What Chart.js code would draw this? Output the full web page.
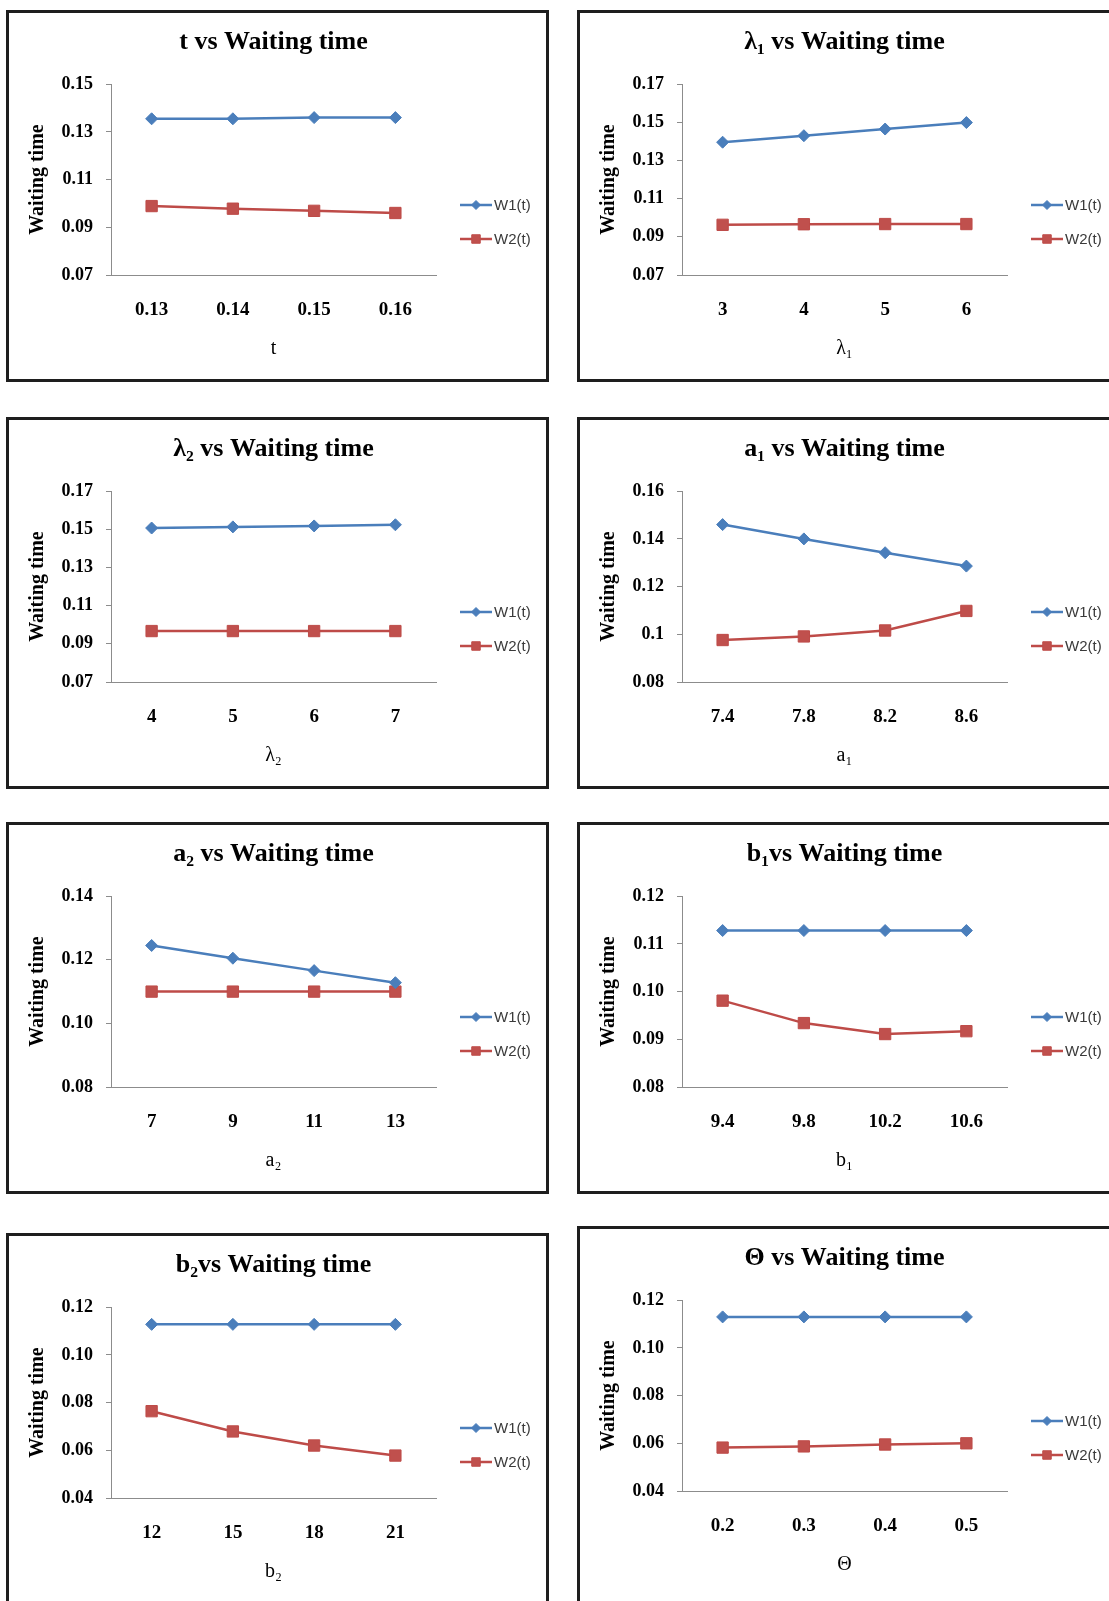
<!DOCTYPE html>
<html>
<head>
<meta charset="utf-8">
<script src="https://cdn.jsdelivr.net/npm/chart.js@4.4.0/dist/chart.umd.min.js"></script>
<style>
  html, body { margin: 0; padding: 0; background: #fff; width: 1109px; height: 1601px; overflow: hidden; }
  .panel { position: absolute; border: 3px solid #1e1e1e; width: 537px; height: 366px; background: #fff; }
  .panel canvas { display: block; }
</style>
</head>
<body>
<div class="panel" style="left:6px;top:10px"><canvas id="c0" width="537" height="366"></canvas></div>
<div class="panel" style="left:577px;top:10px"><canvas id="c1" width="537" height="366"></canvas></div>
<div class="panel" style="left:6px;top:417px"><canvas id="c2" width="537" height="366"></canvas></div>
<div class="panel" style="left:577px;top:417px"><canvas id="c3" width="537" height="366"></canvas></div>
<div class="panel" style="left:6px;top:822px"><canvas id="c4" width="537" height="366"></canvas></div>
<div class="panel" style="left:577px;top:822px"><canvas id="c5" width="537" height="366"></canvas></div>
<div class="panel" style="left:6px;top:1233px;height:390px"><canvas id="c6" width="537" height="366"></canvas></div>
<div class="panel" style="left:577px;top:1226px;height:390px"><canvas id="c7" width="537" height="366"></canvas></div>
<script>
// t vs waiting time
const tCats = ["0.13", "0.14", "0.15", "0.16"];
const tW1 = [0.1355, 0.1355, 0.1360, 0.1360];
const tW2 = [0.0989, 0.0978, 0.0969, 0.0960];
const tTicks = [0.07, 0.09, 0.11, 0.13, 0.15];
const tTickLabels = ["0.07", "0.09", "0.11", "0.13", "0.15"];

// lambda1
const l1Cats = ["3", "4", "5", "6"];
const l1W1 = [0.1396, 0.1430, 0.1465, 0.1499];
const l1W2 = [0.0963, 0.0966, 0.0967, 0.0967];
const l1Ticks = [0.07, 0.09, 0.11, 0.13, 0.15, 0.17];
const l1TickLabels = ["0.07", "0.09", "0.11", "0.13", "0.15", "0.17"];

// lambda2
const l2Cats = ["4", "5", "6", "7"];
const l2W1 = [0.1507, 0.1513, 0.1518, 0.1524];
const l2W2 = [0.0967, 0.0967, 0.0967, 0.0967];
const l2Ticks = [0.07, 0.09, 0.11, 0.13, 0.15, 0.17];
const l2TickLabels = ["0.07", "0.09", "0.11", "0.13", "0.15", "0.17"];

// a1
const a1Cats = ["7.4", "7.8", "8.2", "8.6"];
const a1W1 = [0.1460, 0.1400, 0.1342, 0.1286];
const a1W2 = [0.0976, 0.0991, 0.1016, 0.1098];
const a1Ticks = [0.08, 0.10, 0.12, 0.14, 0.16];
const a1TickLabels = ["0.08", "0.1", "0.12", "0.14", "0.16"];

// a2
const a2Cats = ["7", "9", "11", "13"];
const a2W1 = [0.1245, 0.1205, 0.1166, 0.1128];
const a2W2 = [0.1100, 0.1100, 0.1100, 0.1100];
const a2Ticks = [0.08, 0.10, 0.12, 0.14];
const a2TickLabels = ["0.08", "0.10", "0.12", "0.14"];

// b1
const b1Cats = ["9.4", "9.8", "10.2", "10.6"];
const b1W1 = [0.1128, 0.1128, 0.1128, 0.1128];
const b1W2 = [0.0981, 0.0934, 0.0911, 0.0917];
const b1Ticks = [0.08, 0.09, 0.10, 0.11, 0.12];
const b1TickLabels = ["0.08", "0.09", "0.10", "0.11", "0.12"];

// b2
const b2Cats = ["12", "15", "18", "21"];
const b2W1 = [0.1128, 0.1128, 0.1128, 0.1128];
const b2W2 = [0.0764, 0.0679, 0.0620, 0.0578];
const b2Ticks = [0.04, 0.06, 0.08, 0.10, 0.12];
const b2TickLabels = ["0.04", "0.06", "0.08", "0.10", "0.12"];

// theta
const thCats = ["0.2", "0.3", "0.4", "0.5"];
const thW1 = [0.1130, 0.1130, 0.1130, 0.1130];
const thW2 = [0.0582, 0.0587, 0.0595, 0.0600];
const thTicks = [0.04, 0.06, 0.08, 0.10, 0.12];
const thTickLabels = ["0.04", "0.06", "0.08", "0.10", "0.12"];

const seriesNames = ["W1(t)", "W2(t)"];

const panels = [
  { id: "c0", title: "t vs Waiting time", xTitle: "t", cats: tCats, w1: tW1, w2: tW2, ticks: tTicks, tickLabels: tTickLabels },
  { id: "c1", title: "λ₁ vs Waiting time", xTitle: "λ₁", cats: l1Cats, w1: l1W1, w2: l1W2, ticks: l1Ticks, tickLabels: l1TickLabels },
  { id: "c2", title: "λ₂ vs Waiting time", xTitle: "λ₂", cats: l2Cats, w1: l2W1, w2: l2W2, ticks: l2Ticks, tickLabels: l2TickLabels },
  { id: "c3", title: "a₁ vs Waiting time", xTitle: "a₁", cats: a1Cats, w1: a1W1, w2: a1W2, ticks: a1Ticks, tickLabels: a1TickLabels },
  { id: "c4", title: "a₂ vs Waiting time", xTitle: "a₂", cats: a2Cats, w1: a2W1, w2: a2W2, ticks: a2Ticks, tickLabels: a2TickLabels },
  { id: "c5", title: "b₁vs Waiting time", xTitle: "b₁", cats: b1Cats, w1: b1W1, w2: b1W2, ticks: b1Ticks, tickLabels: b1TickLabels },
  { id: "c6", title: "b₂vs Waiting time", xTitle: "b₂", cats: b2Cats, w1: b2W1, w2: b2W2, ticks: b2Ticks, tickLabels: b2TickLabels },
  { id: "c7", title: "Θ vs Waiting time", xTitle: "Θ", cats: thCats, w1: thW1, w2: thW2, ticks: thTicks, tickLabels: thTickLabels },
];

const SERIF = "'Liberation Serif', 'Times New Roman', serif";
const BLUE = "#4A7EBB";
const RED = "#BE4B48";
const AXIS = "#8c8c8c";

// excel style legend: short line with the marker in the middle
const sideLegend = {
  id: "sideLegend",
  afterDraw(chart) {
    const ctx = chart.ctx;
    const x0 = 451, x1 = 483;
    chart.data.datasets.forEach((ds, i) => {
      const y = 192 + i * 34;
      ctx.save();
      ctx.strokeStyle = ds.borderColor;
      ctx.lineWidth = 2.5;
      ctx.beginPath();
      ctx.moveTo(x0, y);
      ctx.lineTo(x1, y);
      ctx.stroke();
      ctx.fillStyle = ds.backgroundColor;
      ctx.lineWidth = 1;
      Chart.helpers.drawPoint(ctx, { pointStyle: ds.pointStyle, radius: i === 0 ? 4.5 : 6, borderWidth: 1 }, (x0 + x1) / 2, y);
      ctx.fillStyle = "#3a3a3a";
      ctx.font = "15px 'Liberation Sans', Arial, sans-serif";
      ctx.textBaseline = "middle";
      ctx.textAlign = "left";
      ctx.fillText(ds.label, x1 + 2, y + 1);
      ctx.restore();
    });
  }
};

panels.forEach((p) => {
  new Chart(document.getElementById(p.id), {
    type: "line",
    data: {
      labels: p.cats,
      datasets: [
        {
          label: seriesNames[0],
          data: p.w1,
          borderColor: BLUE,
          backgroundColor: BLUE,
          borderWidth: 2.5,
          pointStyle: "rectRot",
          pointRadius: 6,
          pointBorderWidth: 1,
          tension: 0,
        },
        {
          label: seriesNames[1],
          data: p.w2,
          borderColor: RED,
          backgroundColor: "#C0504D",
          borderWidth: 2.5,
          pointStyle: "rect",
          pointRadius: 8,
          pointBorderWidth: 1,
          tension: 0,
        },
      ],
    },
    options: {
      responsive: false,
      animation: false,
      layout: { padding: { left: 10, right: 110, top: 0, bottom: 10 } },
      plugins: {
        legend: { display: false },
        tooltip: { enabled: false },
        title: {
          display: true,
          fullSize: false,
          text: p.title,
          color: "#000",
          font: { family: SERIF, size: 26, weight: "bold" },
          padding: { top: 14, bottom: 26 },
        },
      },
      scales: {
        x: {
          offset: true,
          grid: { display: true, drawOnChartArea: false, drawTicks: false },
          border: { color: AXIS, width: 1 },
          ticks: { color: "#000", font: { family: SERIF, size: 19, weight: "bold" }, padding: 24 },
          title: {
            display: true,
            text: p.xTitle,
            color: "#000",
            font: { family: SERIF, size: 20 },
            padding: { top: 0, bottom: 8 },
          },
          afterFit: (s) => { s.height = 94; },
        },
        y: {
          min: p.ticks[0],
          max: p.ticks[p.ticks.length - 1],
          afterBuildTicks: (s) => { s.ticks = p.ticks.map((v) => ({ value: v })); },
          grid: { display: true, drawOnChartArea: false, drawTicks: true, tickLength: 5, color: AXIS },
          border: { color: AXIS, width: 1 },
          ticks: {
            color: "#000",
            font: { family: SERIF, size: 18, weight: "bold" },
            padding: 13,
            callback: (v, i) => p.tickLabels[i],
          },
          title: {
            display: true,
            text: "Waiting time",
            color: "#000",
            font: { family: SERIF, size: 20, weight: "bold" },
            padding: { top: 7, bottom: 0 },
          },
          afterFit: (s) => { s.width = 92; },
        },
      },
    },
    plugins: [sideLegend],
  });
});
</script>
</body>
</html>
